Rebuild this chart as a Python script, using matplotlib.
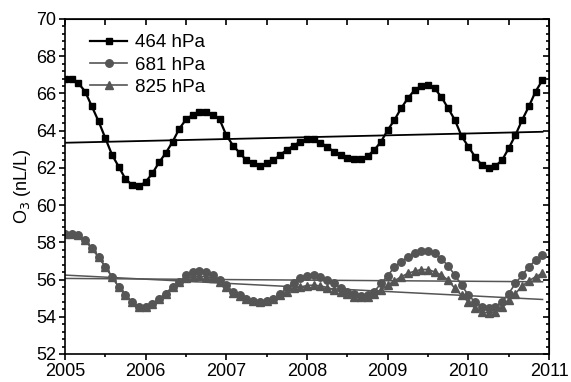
import numpy as np
import matplotlib
matplotlib.use("Agg")
from matplotlib import pyplot as plt
from matplotlib.ticker import MultipleLocator

plt.rcParams['font.family'] = ['Liberation Sans', 'DejaVu Sans']

# mesacne hodnoty 2005-01 .. 2010-12
roky = 2005 + np.arange(72) / 12.0

o3_464 = [66.75, 66.75, 66.55, 66.10, 65.30, 64.50, 63.60, 62.70, 62.06, 61.40, 61.08, 61.00,
          61.25, 61.70, 62.30, 62.80, 63.40, 64.10, 64.60, 64.85, 65.00, 65.00, 64.85, 64.60,
          63.75, 63.20, 62.80, 62.40, 62.24, 62.10, 62.24, 62.40, 62.70, 62.96, 63.20, 63.40,
          63.53, 63.53, 63.35, 63.14, 62.87, 62.70, 62.55, 62.46, 62.46, 62.63, 62.96, 63.40,
          64.03, 64.57, 65.20, 65.74, 66.18, 66.40, 66.45, 66.27, 65.80, 65.20, 64.57, 63.70,
          63.14, 62.60, 62.15, 61.97, 62.10, 62.40, 63.05, 63.76, 64.57, 65.30, 66.10, 66.70]

o3_681 = [58.44, 58.47, 58.39, 58.12, 57.67, 57.22, 56.68, 56.15, 55.60, 55.16, 54.80, 54.53,
          54.53, 54.71, 54.98, 55.25, 55.60, 55.88, 56.24, 56.41, 56.45, 56.41, 56.24, 55.97,
          55.70, 55.34, 55.16, 54.98, 54.86, 54.80, 54.86, 54.98, 55.25, 55.52, 55.83, 56.06,
          56.18, 56.24, 56.15, 56.00, 55.79, 55.55, 55.34, 55.20, 55.11, 55.16, 55.34, 55.80,
          56.20, 56.68, 56.95, 57.22, 57.40, 57.54, 57.54, 57.40, 57.13, 56.72, 56.24, 55.70,
          55.16, 54.80, 54.53, 54.45, 54.53, 54.80, 55.25, 55.79, 56.24, 56.68, 57.04, 57.31]

o3_825 = [58.44, 58.47, 58.39, 58.12, 57.67, 57.22, 56.68, 56.15, 55.60, 55.16, 54.80, 54.53,
          54.53, 54.71, 54.98, 55.25, 55.60, 55.85, 56.06, 56.15, 56.18, 56.15, 56.06, 55.88,
          55.60, 55.28, 55.12, 54.96, 54.85, 54.80, 54.86, 54.98, 55.16, 55.34, 55.52, 55.60,
          55.68, 55.70, 55.66, 55.57, 55.45, 55.34, 55.21, 55.07, 55.04, 55.07, 55.21, 55.45,
          55.70, 55.93, 56.15, 56.33, 56.45, 56.54, 56.54, 56.41, 56.24, 55.97, 55.52, 55.16,
          54.80, 54.45, 54.26, 54.21, 54.26, 54.53, 54.89, 55.25, 55.65, 55.93, 56.15, 56.33]

# linearne trendy (zaciatok, koniec)
trend_x = [2005.0, 2010.92]
trend_464 = [63.35, 63.94]
trend_681 = [56.06, 55.88]
trend_825 = [56.24, 54.93]

seda = '#555555'

fig = plt.figure(figsize=(5.71, 3.82), dpi=100)
ax = fig.add_axes([0.1138, 0.0733, 0.8477, 0.877])

ax.plot(roky, o3_464, color='black', lw=1.6, marker='s', ms=4.6, label='464 hPa')
ax.plot(roky, o3_681, color=seda, lw=1.2, marker='o', ms=5.4, label='681 hPa')
ax.plot(roky, o3_825, color=seda, lw=1.2, marker='^', ms=5.8, label='825 hPa')

ax.plot(trend_x, trend_464, color='black', lw=1.3)
ax.plot(trend_x, trend_681, color=seda, lw=1.1)
ax.plot(trend_x, trend_825, color=seda, lw=1.1)

ax.set_xlim(2005, 2011)
ax.set_ylim(52, 70)
ax.xaxis.set_major_locator(MultipleLocator(1))
ax.xaxis.set_minor_locator(MultipleLocator(0.5))
ax.yaxis.set_major_locator(MultipleLocator(2))
ax.yaxis.set_minor_locator(MultipleLocator(0.4))
ax.tick_params(which='both', direction='out', labelsize=13, width=1.2, pad=2.5)
ax.tick_params(which='major', length=4)
ax.tick_params(which='minor', length=2.5)

# zrkadlove znacky hore a vpravo (dovnutra)
top = ax.secondary_xaxis('top')
top.xaxis.set_major_locator(MultipleLocator(0.5))
top.tick_params(direction='in', length=4, width=1.2, labeltop=False)
right = ax.secondary_yaxis('right')
right.yaxis.set_major_locator(MultipleLocator(2))
right.yaxis.set_minor_locator(MultipleLocator(0.4))
right.tick_params(which='both', direction='in', width=1.2, labelright=False)
right.tick_params(which='major', length=4)
right.tick_params(which='minor', length=2.5)

for s in ax.spines.values():
    s.set_linewidth(1.2)

ax.set_ylabel('O$_3$ (nL/L)', fontsize=13, labelpad=2)

ax.legend(loc='upper left', frameon=False, fontsize=13.5, handlelength=2.0,
          handletextpad=0.4, labelspacing=0.27, borderaxespad=0.0,
          bbox_to_anchor=(0.036, 0.977))

fig.savefig('out.png', dpi=100)
